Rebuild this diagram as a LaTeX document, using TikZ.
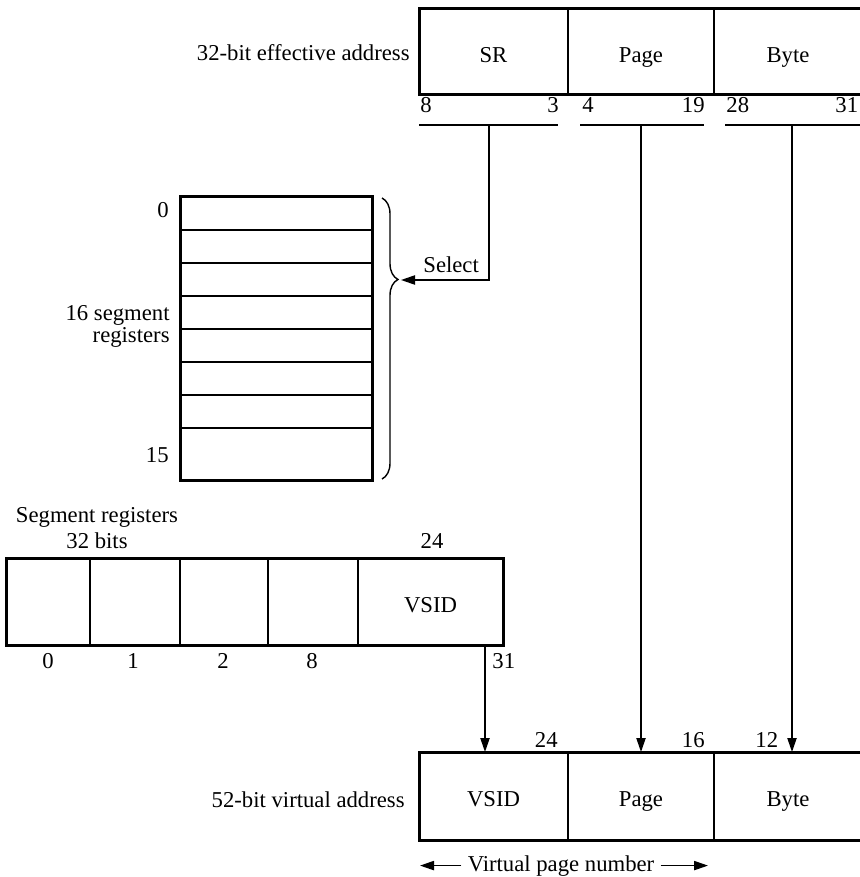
\documentclass[tikz,border=0pt]{standalone}
\usepackage{fontspec}
\setmainfont{Liberation Serif}
\usepackage{tikz}
\usetikzlibrary{
    arrows.meta,
    positioning,
    decorations.pathreplacing
}

\tikzset{
    field/.style={
        draw,
        line width=0.7pt,
        inner sep=0pt,
        outer sep=0pt,
        text height=10.5pt,
        text depth=0pt
    },
    frame/.style={
        draw,
        line width=1.5pt
    },
    bar/.style={
        line width=0.8pt
    },
    link/.style={
        ->,
        line width=0.8pt
    },
    lbl/.style={
        inner sep=0pt
    }
}

\begin{document}
\begin{tikzpicture}[
    x=0.5pt,
    y=-0.5pt,
    font=\fontsize{11.35}{13.6}\selectfont,
    >={Triangle[length=7pt,width=4.6pt]}
]

\useasboundingbox (0,0) rectangle (859,877);

% =============================================================
% 32-bit effective address
% =============================================================

\node[
    field,
    minimum width=74.5pt,
    minimum height=43pt
] (sr) at (493.5,52) {SR};

\node[
    field,
    minimum width=73pt,
    minimum height=43pt,
    right=0pt of sr
] (page) {Page};

\node[
    field,
    minimum width=74pt,
    minimum height=43pt,
    right=0pt of page
] (byte) {Byte};

\draw[frame] (sr.north west) rectangle (byte.south east);

\node[
    lbl,
    anchor=base east
] (effaddr) at (410,61)
{32-bit effective address};

% Bit numbers over the field bars
\foreach \x/\a/\t [count=\i] in {420/west/8, 559/east/3, 582/west/4,
                                 705/east/19, 726/west/28, 835/west/31}{
    \node[
        lbl,
        anchor=base \a
    ] (tb\i) at (\x,113) {\t};
}

\draw[bar] (419,125) -- (558,125);
\draw[bar] (580,125) -- (704,125);
\draw[bar] (725,125) -- (870,125);

\coordinate (srbar) at (489,125);
\coordinate (pagebar) at (641,125);
\coordinate (bytebar) at (792,125);

% =============================================================
% 16 segment registers
% =============================================================

\node[
    frame,
    inner sep=0pt,
    minimum width=96pt,
    minimum height=141.5pt
] (regs) at (276,338.5) {};

\foreach \k in {0,...,6}{
    \draw[line width=0.7pt]
    (180,{230+33*\k}) -- (372,{230+33*\k});
}

\node[lbl, anchor=base east] (r0) at (169,218) {0};
\node[lbl, anchor=base east] (r15) at (169,462) {15};
\node[lbl, anchor=base east] (regsa) at (170,320) {16 segment};
\node[lbl, anchor=base east] (regsb) at (170,342) {registers};

% Brace and select line
\draw[
    line width=0.7pt,
    decorate,
    decoration={brace, amplitude=8pt, aspect=0.29}
]
(382,198) -- (382,479);

\coordinate (brtip) at (401,280);

\draw[link] (srbar) |- (brtip);

\node[
    lbl,
    anchor=base west
] (select) at (423,272)
{Select};

% =============================================================
% Segment register format
% =============================================================

\node[lbl, anchor=base] (segttl) at (97,522) {Segment registers};
\node[lbl, anchor=base] (segbits) at (97,548) {32 bits};
\node[lbl, anchor=base] (seg24) at (432,548) {24};

\node[
    field,
    minimum width=42pt,
    minimum height=43.5pt
] (s0) at (48,601.5) {};

\node[field, minimum width=45pt, minimum height=43.5pt, right=0pt of s0] (s1) {};
\node[field, minimum width=44pt, minimum height=43.5pt, right=0pt of s1] (s2) {};
\node[field, minimum width=45pt, minimum height=43.5pt, right=0pt of s2] (s3) {};
\node[field, minimum width=72.5pt, minimum height=43.5pt, right=0pt of s3] (vsids) {VSID};

\draw[frame] (s0.north west) rectangle (vsids.south east);

\foreach \x/\t [count=\i] in {48/0, 133/1, 223/2, 312/8}{
    \node[lbl, anchor=base] (sb\i) at (\x,668) {\t};
}
\node[lbl, anchor=base west] (sb31) at (492,668) {31};

\coordinate (segout) at (485,645);

% =============================================================
% 52-bit virtual address
% =============================================================

\node[
    field,
    minimum width=74.5pt,
    minimum height=44pt
] (vsidv) at (493.5,796) {VSID};

\node[
    field,
    minimum width=73pt,
    minimum height=44pt,
    right=0pt of vsidv
] (pagev) {Page};

\node[
    field,
    minimum width=74pt,
    minimum height=44pt,
    right=0pt of pagev
] (bytev) {Byte};

\draw[frame] (vsidv.north west) rectangle (bytev.south east);

\node[
    lbl,
    anchor=base east
] (virtaddr) at (405,807)
{52-bit virtual address};

\node[lbl, anchor=base east] (vb24) at (558,747) {24};
\node[lbl, anchor=base east] (vb16) at (705,747) {16};
\node[lbl, anchor=base west] (vb12) at (755,747) {12};

% Field connectors
\draw[link] (segout) -- (segout |- vsidv.north);
\draw[link] (pagebar) -- (pagebar |- pagev.north);
\draw[link] (bytebar) -- (bytebar |- bytev.north);

% Virtual page number span
\node[lbl, anchor=base] (vpn) at (561,871) {Virtual page number};

\coordinate (vpnl) at (420,0);
\coordinate (vpnr) at (708,0);

\draw[link] ([xshift=-3pt]vpn.west) -- (vpn.west -| vpnl);
\draw[link] ([xshift=3pt]vpn.east) -- (vpn.east -| vpnr);

\end{tikzpicture}
\end{document}
